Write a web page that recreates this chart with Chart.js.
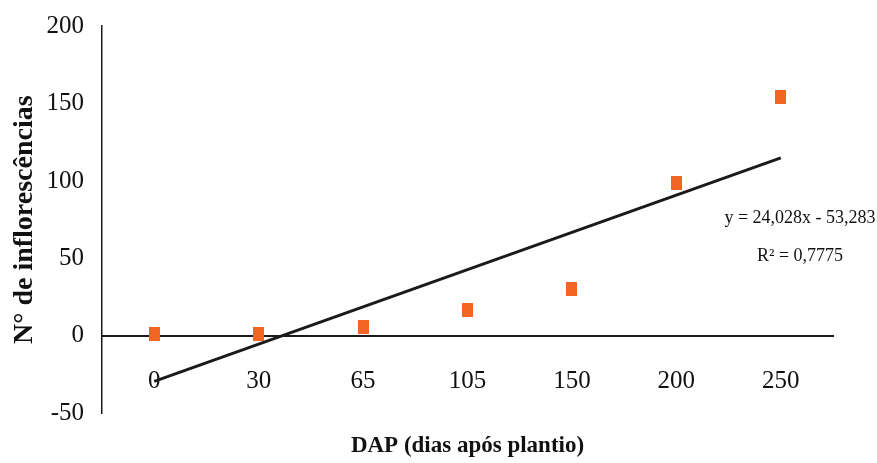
<!doctype html>
<html>
<head>
<meta charset="utf-8" />
<title>Chart</title>
<style>
	html	{ height: 100% }
	body	{ height: 100%; margin: 0; padding: 0; background: #fff }
	canvas	{ display: block; }
</style>
<script src="https://cdn.jsdelivr.net/npm/chart.js@4/dist/chart.umd.min.js"></script>
</head>
<body>
<canvas id="canvas" width="877" height="463"></canvas>
<script>
var categories = ['0', '30', '65', '105', '150', '200', '250'];
var flowers = [1, 1, 6, 17, 30, 99, 154];
// trend line end points (y = 24,028x - 53,283)
var trend = [-29.3, null, null, null, null, null, 114.9];
var yTicks = [-50, 0, 50, 100, 150, 200];
var equation = 'y = 24,028x - 53,283';
var rSquared = 'R² = 0,7775';

var serif = "'Liberation Serif', 'Times New Roman', serif";

// orange marker, a bit taller than wide
var marker = document.createElement('canvas');
marker.width = 11;
marker.height = 14;
var mctx = marker.getContext('2d');
mctx.fillStyle = '#f26522';
mctx.fillRect(0, 0, 11, 14);

var equationLabel = {
	id: 'equationLabel',
	afterDraw: function (chart) {
		var ctx = chart.ctx;
		var area = chart.chartArea;
		ctx.save();
		ctx.fillStyle = '#111';
		ctx.font = '18px ' + serif;
		ctx.textAlign = 'center';
		ctx.textBaseline = 'middle';
		ctx.fillText(equation, area.right - 33, 218);
		ctx.fillText(rSquared, area.right - 33, 256);
		ctx.restore();
	}
};

var chart = new Chart(document.getElementById('canvas').getContext('2d'), {
	type: 'line',
	data: {
		labels: categories,
		datasets: [{
			data: flowers,
			showLine: false,
			pointStyle: marker,
			pointRadius: 7,
			pointHoverRadius: 7,
			backgroundColor: '#f26522',
			borderColor: '#f26522'
		}, {
			data: trend,
			spanGaps: true,
			borderColor: '#1a1a1a',
			borderWidth: 3,
			pointRadius: 0,
			pointHoverRadius: 0,
			fill: false
		}]
	},
	options: {
		responsive: false,
		animation: false,
		devicePixelRatio: 1,
		layout: { padding: { top: 26, right: 44, bottom: 0, left: 0 } },
		plugins: {
			legend: { display: false },
			tooltip: { enabled: false },
			title: {
				display: true,
				position: 'bottom',
				fullSize: false,
				text: 'DAP (dias após plantio)',
				color: '#111',
				font: { family: serif, size: 23, weight: 'bold' },
				padding: { top: 19, bottom: 3 }
			}
		},
		scales: {
			x: {
				type: 'category',
				position: { y: 0 },
				offset: true,
				grid: { display: false, drawTicks: false },
				border: { display: true, color: '#1a1a1a', width: 2 },
				ticks: { color: '#111', font: { family: serif, size: 25 }, padding: 31, maxRotation: 0 },
				afterFit: function (scale) { scale.height = 7; }
			},
			y: {
				min: -50,
				max: 200,
				afterBuildTicks: function (scale) {
					scale.ticks = yTicks.map(function (v) { return { value: v }; });
				},
				grid: { display: false, drawTicks: false },
				border: { display: true, color: '#1a1a1a', width: 1.5 },
				ticks: { color: '#111', font: { family: serif, size: 25 }, padding: 18 },
				title: {
					display: true,
					text: 'N° de inflorescências',
					color: '#111',
					font: { family: serif, size: 28, weight: 'bold' },
					padding: { top: 8, bottom: 0 }
				},
				afterFit: function (scale) {
					scale.width = 102;
					// let the layout padding decide the top of the plot
					scale.paddingTop = 0;
					scale.paddingBottom = 0;
				}
			}
		}
	},
	plugins: [equationLabel]
});
</script>
</body>
</html>
